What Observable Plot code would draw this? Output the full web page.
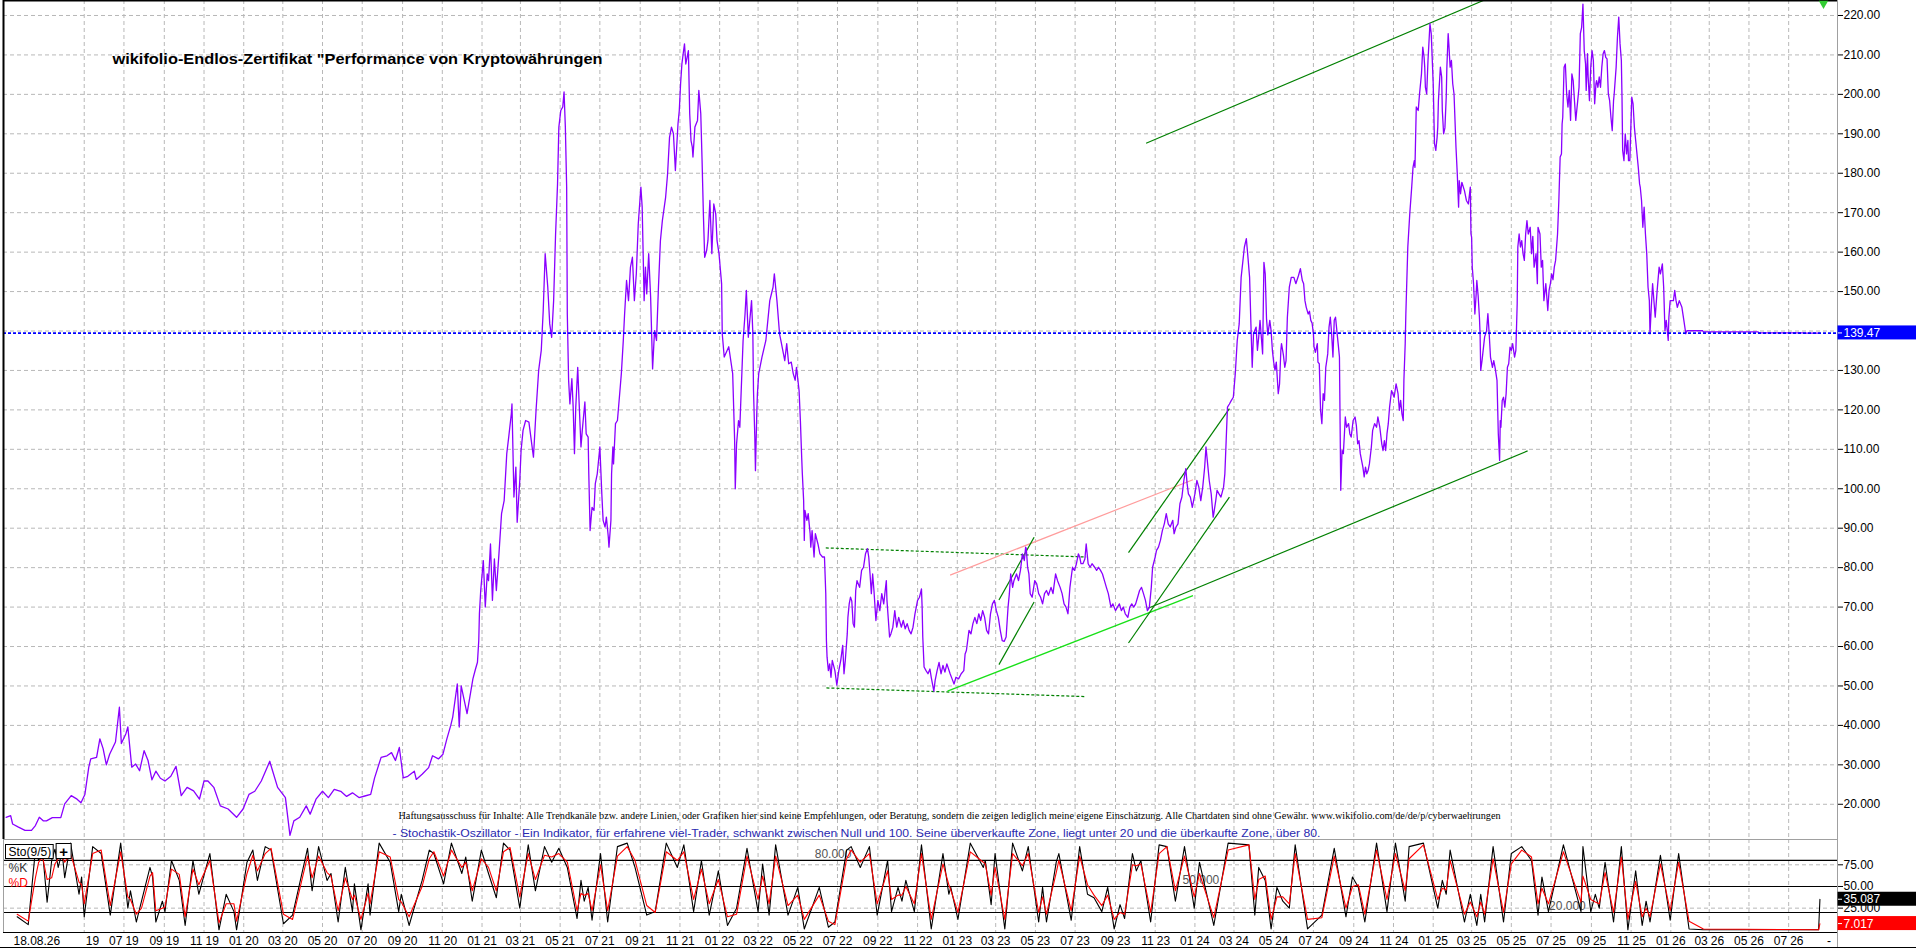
<!DOCTYPE html>
<html>
<head>
<meta charset="utf-8">
<script src="https://cdn.jsdelivr.net/npm/d3@7"></script>
<script src="https://cdn.jsdelivr.net/npm/@observablehq/plot@0.6"></script>
<style>
  html,body{margin:0;padding:0;background:#fff;overflow:hidden}
  #chart{position:relative;width:1916px;height:948px;background:#fff}
  #chart svg{position:absolute;left:0;display:block}
</style>
</head>
<body>
<div id="chart"></div>
<script>
// ================= DATA =================
const titleText = 'wikifolio-Endlos-Zertifikat "Performance von Kryptowährungen';
const disclaimerText = "Haftungsausschuss für Inhalte: Alle Trendkanäle bzw. andere Linien, oder Grafiken hier sind keine Empfehlungen, oder Beratung, sondern die zeigen lediglich meine eigene Einschätzung. Alle Chartdaten sind ohne Gewähr. www.wikifolio.com/de/de/p/cyberwaehrungen";
const stochNote = "- Stochastik-Oszillator - Ein Indikator, für erfahrene viel-Trader, schwankt zwischen Null und 100. Seine überverkaufte Zone, liegt unter 20 und die überkaufte Zone, über 80.";
const stochName = "Sto(9/5)";

// price of the certificate, [MM-DD, value] per year
const price2019 = [["01-01",16.7],["01-08",17.1],["01-11",15.0],["01-20",14.2],["01-30",13.4],["02-09",13.4],["02-15",14.6],["02-21",16.7],["02-27",15.8],["03-04",15.8],["03-13",16.6],["03-26",16.6],["04-01",20.1],["04-11",22.2],["04-20",21.3],["04-26",20.4],["05-02",22.5],["05-08",29.4],["05-11",31.5],["05-20",31.9],["05-25",36.6],["05-30",34.1],["06-04",30.0],["06-09",32.7],["06-18",35.8],["06-24",44.6],["06-27",35.4],["07-04",37.9],["07-07",39.6],["07-13",29.4],["07-19",30.2],["07-25",28.5],["08-01",33.6],["08-07",31.1],["08-13",26.2],["08-19",28.4],["08-26",26.6],["09-02",25.9],["09-11",27.1],["09-19",29.6],["09-27",22.2],["10-06",24.3],["10-16",23.4],["10-25",21.3],["11-01",25.9],["11-07",25.9],["11-16",24.3],["11-26",19.6],["12-08",18.8],["12-21",16.7],["12-31",18.8]];
const price2020 = [["01-09",22.5],["01-18",23.3],["01-28",25.9],["02-10",30.9],["02-13",29.2],["02-22",24.3],["03-05",21.7],["03-12",12.1],["03-18",15.8],["03-27",16.7],["04-06",19.6],["04-12",17.5],["04-21",21.3],["05-01",23.3],["05-10",21.7],["05-19",23.8],["05-29",23.3],["06-07",22.0],["06-16",22.9],["06-26",21.7],["07-05",22.1],["07-14",22.5],["07-20",26.7],["07-30",31.9],["08-08",32.3],["08-15",33.1],["08-21",31.1],["08-27",34.4],["09-02",26.7],["09-09",27.1],["09-19",28.4],["09-22",26.3],["10-01",27.6],["10-11",29.3],["10-17",32.3],["10-26",31.5],["11-02",32.7],["11-08",36.6],["11-14",40.0],["11-17",42.1],["11-24",50.5],["11-27",39.6],["11-30",50.0],["12-09",43.0],["12-18",51.8],["12-22",54.3],["12-25",56.0],["12-27",61.5],["12-28",68.3],["12-30",74.2]];
const price2021 = [["01-03",81.8],["01-06",70.0],["01-09",78.4],["01-11",76.7],["01-14",86.0],["01-17",71.7],["01-20",82.2],["01-23",74.2],["01-27",83.5],["01-31",93.7],["02-04",97.0],["02-08",108.9],["02-11",113.1],["02-15",119.0],["02-16",121.5],["02-19",97.9],["02-22",105.5],["02-24",91.5],["02-28",102.1],["03-02",109.7],["03-05",114.8],["03-09",117.3],["03-14",116.9],["03-17",113.1],["03-21",108.0],["03-25",119.9],["03-29",130.0],["04-02",135.1],["04-05",145.2],["04-08",159.6],["04-12",151.1],["04-15",141.8],["04-18",138.4],["04-21",147.7],["04-24",164.6],["04-27",177.3],["04-29",191.7],["05-02",195.9],["05-05",196.8],["05-07",200.6],["05-09",191.7],["05-11",176.5],["05-12",144.3],["05-14",127.5],["05-16",121.5],["05-19",127.9],["05-21",120.7],["05-23",108.9],["05-25",120.7],["05-28",130.8],["05-30",122.4],["06-02",110.6],["06-04",114.8],["06-08",122.0],["06-10",113.9],["06-13",113.1],["06-14",103.8],["06-16",89.4],["06-19",95.3],["06-22",94.5],["06-24",101.3],["06-27",103.8],["07-01",110.6],["07-04",98.7],["07-06",92.0],["07-09",90.3],["07-11",92.8],["07-14",87.7],["07-15",85.2],["07-18",92.0],["07-19",103.8],["07-21",110.6],["07-22",106.3],["07-25",116.5],["07-28",117.3],["07-31",123.2],["08-03",129.2],["08-06",137.6],["08-08",144.3],["08-11",152.8],["08-14",147.7],["08-17",156.2],["08-20",158.7],["08-23",147.7],["08-26",154.5],["08-29",167.2],["09-02",176.5],["09-04",171.4],["09-07",147.7],["09-09",156.2],["09-11",149.4],["09-14",159.6],["09-17",148.5],["09-20",130.4],["09-23",140.1],["09-26",137.6],["09-29",151.1],["10-02",162.9],["10-05",168.0],["10-10",173.9],["10-13",179.8],["10-16",189.1],["10-19",191.7],["10-22",190.0],["10-25",180.7],["10-29",192.5],["10-31",195.9],["11-02",202.7],["11-04",207.7],["11-06",210.3],["11-08",212.8],["11-10",207.7],["11-12",209.4],["11-14",211.1],["11-16",195.1],["11-18",188.3],["11-20",186.6],["11-21",184.1],["11-24",191.7],["11-28",193.4],["11-30",201.0],["12-03",195.1],["12-05",183.2],["12-07",169.7],["12-09",158.7],["12-12",160.4],["12-14",162.9],["12-17",173.1],["12-20",159.6],["12-23",172.2],["12-26",169.7],["12-28",162.9],["12-31",159.6]];
const price2022 = [["01-04",152.0],["01-05",139.3],["01-08",133.4],["01-15",136.0],["01-21",129.2],["01-24",112.3],["01-25",100.0],["01-27",111.4],["01-30",117.3],["02-01",115.6],["02-06",137.6],["02-09",144.3],["02-11",150.3],["02-14",138.4],["02-19",147.7],["02-21",139.3],["02-22",124.9],["02-24",113.1],["02-25",104.6],["02-27",119.0],["02-28",124.1],["03-02",129.2],["03-07",133.4],["03-13",137.6],["03-19",147.7],["03-24",151.1],["03-26",154.5],["03-30",147.7],["04-03",139.3],["04-05",137.6],["04-11",132.5],["04-14",136.8],["04-17",131.7],["04-21",132.1],["04-24",129.2],["04-27",127.5],["04-29",130.8],["05-03",124.9],["05-05",117.3],["05-07",108.0],["05-08",103.8],["05-10",97.0],["05-11",86.9],["05-12",94.5],["05-15",92.0],["05-17",93.7],["05-20",88.6],["05-21",85.2],["05-23",89.4],["05-26",82.7],["05-28",88.6],["06-01",86.0],["06-04",83.5],["06-08",82.7],["06-11",82.7],["06-13",73.4],["06-14",61.5],["06-15",57.3],["06-17",53.9],["06-19",55.6],["06-21",52.2],["06-23",56.5],["06-27",53.9],["06-30",50.2],["07-03",53.9],["07-06",56.5],["07-09",60.3],["07-11",53.1],["07-13",56.5],["07-16",63.2],["07-17",67.4],["07-19",70.8],["07-21",72.5],["07-23",71.5],["07-25",65.8],["07-27",64.9],["07-29",74.2],["07-31",76.7],["08-04",75.0],["08-07",79.3],["08-10",80.1],["08-13",83.5],["08-16",84.8],["08-18",82.7],["08-20",78.4],["08-22",73.4],["08-24",78.4],["08-26",74.2],["08-29",66.6],["09-01",71.7],["09-04",69.1],["09-07",73.4],["09-10",70.8],["09-14",76.7],["09-15",71.7],["09-19",62.4],["09-21",63.2],["09-24",64.9],["09-27",69.1],["09-30",64.9],["10-03",67.4],["10-07",64.9],["10-10",66.6],["10-13",64.5],["10-16",65.8],["10-19",64.1],["10-22",63.2],["10-25",64.9],["10-28",68.3],["11-01",71.7],["11-04",72.5],["11-07",74.6],["11-08",70.0],["11-09",62.4],["11-11",54.8],["11-14",53.9],["11-17",53.1],["11-20",54.3],["11-22",52.2],["11-26",48.7],["11-28",51.4],["12-01",53.9],["12-04",56.0],["12-07",53.1],["12-10",55.2],["12-13",53.5],["12-16",55.6],["12-21",53.1],["12-24",51.8],["12-27",50.5],["12-30",52.2]];
const price2023 = [["01-03",51.8],["01-07",53.1],["01-11",53.9],["01-13",58.1],["01-15",59.0],["01-19",64.1],["01-22",63.2],["01-25",65.8],["01-28",67.4],["01-31",65.8],["02-03",68.3],["02-06",66.6],["02-09",69.1],["02-12",67.4],["02-15",64.1],["02-18",63.2],["02-21",68.3],["02-24",70.8],["02-27",71.7],["03-02",69.1],["03-05",67.4],["03-08",64.1],["03-11",61.5],["03-14",61.3],["03-17",62.4],["03-20",70.0],["03-22",73.4],["03-24",78.4],["03-27",75.0],["03-29",76.7],["04-02",78.4],["04-05",76.7],["04-08",79.3],["04-11",83.5],["04-14",81.8],["04-16",85.2],["04-17",84.8],["04-19",80.1],["04-21",78.4],["04-23",73.4],["04-26",72.5],["04-30",76.7],["05-03",75.9],["05-06",73.4],["05-09",72.5],["05-12",70.8],["05-15",73.4],["05-18",74.2],["05-21",73.0],["05-25",75.0],["05-28",73.4],["06-01",78.4],["06-04",76.7],["06-08",75.0],["06-11",73.4],["06-14",70.8],["06-17",70.0],["06-20",68.3],["06-23",75.0],["06-27",80.1],["06-30",79.3],["07-03",81.0],["07-06",83.5],["07-08",82.7],["07-10",81.0],["07-13",81.0],["07-16",82.2],["07-18",86.0],["07-21",81.0],["07-24",80.1],["07-27",81.0],["07-31",80.1],["08-03",79.3],["08-06",80.1],["08-09",79.3],["08-12",78.4],["08-15",76.7],["08-18",75.0],["08-21",73.4],["08-25",70.0],["08-28",70.8],["09-01",69.1],["09-04",70.0],["09-07",70.8],["09-10",69.1],["09-13",70.0],["09-16",68.3],["09-20",67.4],["09-23",70.0],["09-26",70.8],["09-29",70.0],["10-02",70.8],["10-05",72.5],["10-08",74.2],["10-11",75.0],["10-14",73.4],["10-17",71.7],["10-20",69.1],["10-23",70.0],["10-26",75.0],["10-28",80.1],["11-01",82.7],["11-03",84.4],["11-06",85.2],["11-09",86.9],["11-12",89.4],["11-15",91.1],["11-18",93.7],["11-21",91.1],["11-24",90.3],["11-28",92.0],["11-30",88.6],["12-03",90.3],["12-06",91.1],["12-09",96.2],["12-12",97.9],["12-15",102.1],["12-18",105.1],["12-20",101.3],["12-22",98.7],["12-25",97.9],["12-28",95.3]];
const price2024 = [["01-01",98.7],["01-04",102.1],["01-07",100.4],["01-10",97.0],["01-13",100.4],["01-16",105.5],["01-18",110.6],["01-21",105.5],["01-23",102.1],["01-26",98.7],["01-29",92.8],["01-30",93.7],["02-02",97.0],["02-04",99.6],["02-07",98.7],["02-10",97.9],["02-14",100.4],["02-16",103.8],["02-18",112.2],["02-20",120.7],["02-23",121.5],["02-26",122.4],["02-29",123.2],["03-03",129.2],["03-06",137.6],["03-09",141.8],["03-12",153.6],["03-17",161.3],["03-20",163.4],["03-22",159.6],["03-25",153.6],["03-27",141.8],["03-29",130.8],["03-31",139.3],["04-04",141.0],["04-06",135.1],["04-08",138.5],["04-10",142.7],["04-12",138.5],["04-14",134.2],["04-16",157.4],["04-18",154.5],["04-20",143.0],["04-22",139.0],["04-25",142.7],["04-27",140.1],["04-29",135.1],["05-01",132.1],["05-03",130.0],["05-05",132.1],["05-08",124.1],["05-10",126.6],["05-12",135.1],["05-13",136.8],["05-16",133.8],["05-18",130.8],["05-20",132.5],["05-22",143.5],["05-25",151.1],["05-28",153.6],["06-01",153.6],["06-04",152.0],["06-08",154.0],["06-11",155.8],["06-14",152.8],["06-16",152.0],["06-18",147.7],["06-20",146.0],["06-23",144.3],["06-25",145.0],["06-27",142.7],["06-29",142.0],["07-01",139.3],["07-02",135.9],["07-04",134.6],["07-07",136.8],["07-08",132.1],["07-10",131.7],["07-12",119.9],["07-14",116.5],["07-16",124.1],["07-18",122.4],["07-20",130.8],["07-23",134.2],["07-25",141.0],["07-27",143.5],["07-29",139.3],["07-31",133.4],["08-02",142.7],["08-04",143.5],["08-06",140.1],["08-08",136.8],["08-10",133.4],["08-11",116.5],["08-12",99.6],["08-14",109.7],["08-16",108.9],["08-19",118.2],["08-21",115.6],["08-24",116.5],["08-26",113.9],["08-28",113.1],["08-31",117.3],["09-03",118.2],["09-05",116.0],["09-07",111.4],["09-09",112.2],["09-11",108.9],["09-13",107.2],["09-15",105.5],["09-17",103.0],["09-19",105.5],["09-21",103.8],["09-23",104.6],["09-25",106.3],["09-28",110.6],["09-30",114.8],["10-03",116.5],["10-06",115.6],["10-08",118.2],["10-11",115.6],["10-14",111.4],["10-16",109.7],["10-18",112.2],["10-20",109.7],["10-22",113.9],["10-24",116.5],["10-26",120.7],["10-29",124.9],["11-02",123.2],["11-05",126.6],["11-08",124.1],["11-10",119.9],["11-12",122.4],["11-14",119.0],["11-16",117.3],["11-17",127.5],["11-19",136.8],["11-20",144.4],["11-23",161.3],["11-26",169.7],["11-29",176.5],["12-01",181.5],["12-03",183.2],["12-04",181.5],["12-06",196.8],["12-09",195.9],["12-11",200.1],["12-14",205.2],["12-16",212.0],["12-18",209.4],["12-19",206.9],["12-20",201.8],["12-22",200.1],["12-24",208.6],["12-27",217.9],["12-29",215.4]];
const price2025 = [["01-01",202.7],["01-03",187.5],["01-05",185.8],["01-07",189.1],["01-08",191.7],["01-09",198.4],["01-12",206.9],["01-14",204.4],["01-15",195.9],["01-17",190.0],["01-19",191.5],["01-21",199.3],["01-22",206.9],["01-24",215.4],["01-25",212.8],["01-27",206.9],["01-29",208.6],["01-31",202.7],["02-02",200.1],["02-05",186.6],["02-07",179.8],["02-09",171.4],["02-10",178.1],["02-12",174.8],["02-14",177.7],["02-18",175.6],["02-21",173.1],["02-24",172.2],["02-27",176.5],["02-28",164.6],["03-01",163.8],["03-02",156.2],["03-04",152.0],["03-06",144.3],["03-08",149.4],["03-09",152.8],["03-11",149.0],["03-13",143.5],["03-14",139.3],["03-15",130.0],["03-17",132.5],["03-21",138.5],["03-24",140.1],["03-26",144.4],["03-28",139.3],["03-30",133.4],["04-02",130.8],["04-04",132.5],["04-06",130.8],["04-09",127.5],["04-11",113.9],["04-13",107.2],["04-14",117.3],["04-15",115.6],["04-17",122.4],["04-19",123.2],["04-21",120.7],["04-23",124.1],["04-25",130.8],["04-27",131.7],["04-29",135.9],["05-01",135.1],["05-03",136.8],["05-06",133.4],["05-08",135.1],["05-10",146.9],["05-11",161.3],["05-13",164.6],["05-15",161.3],["05-17",162.9],["05-19",159.6],["05-21",157.9],["05-23",164.6],["05-25",168.0],["05-27",164.6],["05-30",166.3],["06-01",159.6],["06-03",164.0],["06-05",156.2],["06-08",159.6],["06-10",152.0],["06-11",166.3],["06-14",164.6],["06-16",156.2],["06-18",157.9],["06-20",147.7],["06-23",152.0],["06-26",145.2],["06-28",150.3],["06-30",152.0],["07-02",154.5],["07-04",153.0],["07-06",156.2],["07-08",157.9],["07-11",164.6],["07-13",173.1],["07-15",184.1],["07-17",184.9],["07-18",192.5],["07-19",194.2],["07-21",206.9],["07-23",207.7],["07-25",200.1],["07-27",196.8],["07-29",201.0],["07-31",193.4],["08-02",205.2],["08-04",203.5],["08-06",198.4],["08-08",193.4],["08-09",195.1],["08-11",198.4],["08-13",201.8],["08-15",215.4],["08-17",217.0],["08-19",222.9],["08-21",211.1],["08-23",207.7],["08-24",201.0],["08-26",210.3],["08-27",204.4],["08-29",198.4],["08-31",206.9],["09-02",211.1],["09-04",208.6],["09-06",197.6],["09-08",202.7],["09-09",203.5],["09-11",201.8],["09-13",204.4],["09-15",201.8],["09-17",206.9],["09-19",210.3],["09-21",211.1],["09-23",209.4],["09-25",209.0],["09-27",200.1],["09-29",198.4],["10-01",194.2],["10-03",190.8],["10-05",198.4],["10-06",200.1],["10-09",206.9],["10-11",214.5],["10-13",219.6],["10-15",212.8],["10-17",208.6],["10-18",199.3],["10-19",185.8],["10-21",183.2],["10-23",190.0],["10-25",184.9],["10-27",188.3],["10-28",183.2],["10-30",183.2],["11-02",199.3],["11-04",197.6],["11-06",191.7],["11-08",188.3],["11-10",184.9],["11-12",181.5],["11-14",177.3],["11-15",176.5],["11-17",173.1],["11-19",166.3],["11-21",171.4],["11-23",164.6],["11-25",159.6],["11-27",151.1],["11-29",147.7],["11-30",139.3],["12-01",142.7],["12-02",146.1],["12-04",152.0],["12-08",143.5],["12-11",150.3],["12-14",156.2],["12-16",154.5],["12-19",157.0],["12-21",151.1],["12-23",140.1],["12-25",142.7],["12-27",139.3],["12-28",137.6],["12-29",143.5],["12-31",147.7]];
const price2026 = [["01-05",147.7],["01-07",150.3],["01-09",147.7],["01-11",146.0],["01-14",147.7],["01-18",146.0],["01-21",142.7],["01-24",139.3],["01-26",140.1],["01-28",140.06],["02-19",140.06],["02-20",139.8],["05-15",139.8],["05-16",139.55],["07-23",139.55],["07-24",139.47],["08-18",139.47]];
const lastDate = "2026-08-18";

// stochastic oscillator turning points: [day since 2019-01-01, %K, %D]
const stoch2019_20 = [[17,15,18],[34,6,10],[45,92,60],[50,80,78],[56,90,84],[63,32,58],[70,80,60],[75,93,76],[80,72,82],[86,90,84],[90,60,78],[99,100,88],[112,41,55],[116,61,52],[120,15,30],[133,96,88],[146,88,92],[160,17,28],[176,100,90],[187,25,38],[191,45,35],[200,9,18],[208,33,25],[221,72,62],[225,61,66],[230,9,22],[240,33,25],[244,21,26],[254,80,70],[266,57,64],[275,5,15],[287,80,70],[296,41,52],[313,88,80],[327,0,8],[338,41,30],[350,21,30],[354,0,10],[370,78,65],[379,92,86],[386,57,68],[398,96,88],[407,92,94],[426,7,18],[440,17,12],[463,94,85],[470,45,60],[480,96,85],[493,57,66],[499,65,62],[510,9,22],[521,72,60],[532,21,35],[535,53,40],[545,0,12],[556,53,42],[559,17,30],[573,100,90],[590,78,84],[603,21,35],[607,41,32],[619,5,15],[639,57,50],[650,92,82],[657,88,90],[672,53,62],[684,100,92],[700,65,72],[706,84,78],[716,33,45],[730,92,82]];
const stoch2021_22 = [[741,65,72],[753,37,45],[764,100,90],[774,92,95],[789,25,38],[802,98,88],[813,45,58],[827,96,86],[838,78,84],[849,94,88],[862,72,78],[877,13,22],[883,57,42],[888,33,40],[894,49,42],[900,11,22],[913,88,75],[924,9,22],[939,96,85],[954,100,96],[966,72,80],[984,17,28],[997,21,20],[1014,100,90],[1031,72,80],[1041,98,90],[1056,21,35],[1068,80,70],[1080,17,30],[1094,68,58],[1108,5,15],[1122,25,18],[1138,94,85],[1155,21,35],[1162,76,62],[1172,17,30],[1182,98,85],[1201,17,28],[1216,49,40],[1226,1,12],[1249,49,40],[1263,3,10],[1273,9,6],[1291,92,82],[1298,96,92],[1312,72,78],[1326,96,88],[1338,17,30],[1354,80,68],[1360,21,35],[1370,49,40],[1376,33,40],[1382,57,50],[1395,21,30],[1406,98,88],[1421,1,12],[1439,88,76],[1448,41,52],[1451,49,46]];
const stoch2023_24 = [[1462,12,20],[1481,100,90],[1501,72,78],[1504,80,76],[1513,29,40],[1519,88,72],[1534,1,12],[1546,100,88],[1561,68,74],[1570,96,88],[1586,9,20],[1592,49,38],[1598,9,18],[1613,78,66],[1617,88,80],[1636,11,22],[1649,96,85],[1661,41,52],[1671,37,40],[1683,21,28],[1692,49,40],[1702,1,12],[1711,29,20],[1718,13,18],[1730,88,75],[1736,68,74],[1743,80,76],[1758,9,20],[1771,98,88],[1783,96,96],[1796,33,45],[1810,96,85],[1825,25,38],[1833,78,65],[1855,5,14],[1877,100,92],[1909,98,98],[1918,17,35]];
const stoch2025_26 = [[1924,72,58],[1934,57,62],[1943,1,12],[1952,49,38],[1961,33,38],[1971,25,30],[1980,98,88],[1999,1,12],[2021,17,14],[2040,94,85],[2058,15,25],[2068,61,50],[2077,49,52],[2087,9,18],[2105,100,92],[2121,21,35],[2134,100,88],[2149,33,45],[2155,96,82],[2177,100,98],[2199,25,35],[2206,57,48],[2212,41,46],[2218,92,80],[2240,9,18],[2249,41,32],[2259,5,15],[2265,41,32],[2271,9,18],[2284,96,82],[2300,9,20],[2312,88,76],[2328,96,92],[2343,80,84],[2353,17,30],[2359,61,48],[2369,21,30],[2392,98,90],[2419,21,32],[2422,96,62],[2434,21,35],[2441,41,32],[2447,25,30],[2456,78,66],[2469,9,20],[2481,96,84],[2491,0,12],[2503,68,56],[2513,5,15],[2519,33,25],[2525,9,15],[2541,86,76],[2556,11,22],[2569,88,78],[2585,1,10],[2607,0,1],[2784,0,0],[2786,35.087,7.017]];

// drawn trend lines: [date1, value1, date2, value2]
const trendSolid = [["2023-10-18",187.6,"2025-03-19",223.8],["2023-10-21",69.7,"2025-05-26",109.6],["2023-03-06",71.8,"2023-04-29",87.7],["2023-03-06",55.4,"2023-04-29",71.3],["2023-09-21",83.8,"2024-02-23",120.3],["2023-09-21",60.9,"2024-02-23",97.9]];
const trendSupport = [["2022-12-17",48.7,"2023-12-29",72.9]];
const trendResistance = [["2022-12-21",78.1,"2023-12-29",102.3]];
const trendRange = [["2022-06-13",85.0,"2023-07-18",82.7],["2022-06-14",49.5,"2023-07-18",47.3]];

// axes
const xTickMonths = ["2019-05","2019-07","2019-09","2019-11","2020-01","2020-03","2020-05","2020-07","2020-09","2020-11","2021-01","2021-03","2021-05","2021-07","2021-09","2021-11","2022-01","2022-03","2022-05","2022-07","2022-09","2022-11","2023-01","2023-03","2023-05","2023-07","2023-09","2023-11","2024-01","2024-03","2024-05","2024-07","2024-09","2024-11","2025-01","2025-03","2025-05","2025-07","2025-09","2025-11","2026-01","2026-03","2026-05","2026-07"];
const xTickOverflow = ["2026-09"];
const priceTicks = [20,30,40,50,60,70,80,90,100,110,120,130,140,150,160,170,180,190,200,210,220];
const stochTicks = [25,50,75];
const stochLevels = [20,50,80];
const stochLevelLabels = [["2022-05-27",80,"80.000"],["2023-12-13",50,"50.000"],["2025-06-28",20,"20.000"]];
const xDomain = ["2018-12-28","2026-09-14"];
const priceDomain = [11.07, 223.8];
const stochDomain = [-3.1, 104.2];

// ================= BUILD =================
const toDate = s => new Date(s + "T00:00:00Z");
const day0 = Date.UTC(2019, 0, 1);
const priceYears = [[2019,price2019],[2020,price2020],[2021,price2021],[2022,price2022],[2023,price2023],[2024,price2024],[2025,price2025],[2026,price2026]];
const price = priceYears.flatMap(([y, rows]) => rows.map(([md, v]) => ({date: toDate(`${y}-${md}`), value: v})));
const stoch = [...stoch2019_20, ...stoch2021_22, ...stoch2023_24, ...stoch2025_26]
  .map(([d, k, dv]) => ({date: new Date(day0 + d * 86400000), k, d: dv}));
const toLink = rows => rows.map(([a, v1, b, v2]) => ({x1: toDate(a), y1: v1, x2: toDate(b), y2: v2}));
const lastPrice = price[price.length - 1].value;
const lastK = stoch[stoch.length - 1].k;
const lastD = stoch[stoch.length - 1].d;
const xDom = xDomain.map(toDate);
const tickDates = xTickMonths.map(m => toDate(m + "-01"));
const fmtM = d3.utcFormat("%m"), fmtY = d3.utcFormat("%y"), fmtStamp = d3.utcFormat("%d.%m.%y");

const SANS = "'Liberation Sans', Arial, sans-serif";
const SERIF = "'Liberation Serif', 'Times New Roman', serif";
const W = 1916;
const grid = {stroke: "#b8b8b8", strokeOpacity: 1, strokeWidth: 1, strokeDasharray: "4,3"};
const baseStyle = {background: "#fff", fontFamily: SANS, fontSize: "12px", color: "#000", overflow: "visible"};

const main = Plot.plot({
  width: W, height: 839,
  marginLeft: 3, marginRight: 79, marginTop: 0, marginBottom: 0,
  style: baseStyle,
  x: {type: "utc", domain: xDom, axis: null},
  y: {domain: priceDomain, axis: "right", ticks: priceTicks,
      tickFormat: v => v >= 50 ? v.toFixed(2) : v.toFixed(3),
      tickSize: 5, tickPadding: 1, label: null},
  marks: [
    Plot.ruleX(tickDates, grid),
    Plot.ruleY(priceTicks, grid),
    Plot.text([titleText], {text: d => d, frameAnchor: "top-left", dx: 109, dy: 63.5, lineAnchor: "bottom", textAnchor: "start",
      fontFamily: SANS, fontWeight: "bold", fontSize: 15.5, fill: "#000"}),
    Plot.text([disclaimerText], {text: d => d, frameAnchor: "top-left", dx: 395, dy: 818.3, lineAnchor: "bottom", textAnchor: "start",
      fontFamily: SERIF, fontSize: 10.5, fill: "#000"}),
    Plot.text([stochNote], {text: d => d, frameAnchor: "top-left", dx: 389, dy: 836.5, lineAnchor: "bottom", textAnchor: "start",
      fontFamily: SANS, fontSize: 11.5, fill: "#2a2ab0"}),
    Plot.link(toLink(trendRange), {x1: "x1", y1: "y1", x2: "x2", y2: "y2", stroke: "#008000", strokeWidth: 1.2, strokeDasharray: "3,2"}),
    Plot.link(toLink(trendResistance), {x1: "x1", y1: "y1", x2: "x2", y2: "y2", stroke: "#ff9c9c", strokeWidth: 1.2}),
    Plot.link(toLink(trendSupport), {x1: "x1", y1: "y1", x2: "x2", y2: "y2", stroke: "#18e018", strokeWidth: 1.3}),
    Plot.link(toLink(trendSolid), {x1: "x1", y1: "y1", x2: "x2", y2: "y2", stroke: "#008000", strokeWidth: 1.2}),
    Plot.line(price, {x: "date", y: "value", stroke: "#8a00ff", strokeWidth: 1.3}),
    Plot.ruleY([lastPrice], {stroke: "#0000ff", strokeWidth: 1.6, strokeDasharray: "3,2"}),
    Plot.frame({stroke: "#a0a0a0"}),
    Plot.ruleX([xDom[0]], {stroke: "#000", strokeWidth: 2}),
    Plot.ruleY([priceDomain[1]], {stroke: "#000", strokeWidth: 2}),
    Plot.text([lastPrice], {y: d => d, text: d => d.toFixed(2), frameAnchor: "right", dx: 6, textAnchor: "start",
      fill: "#fff", fontSize: 12}),
    Plot.dot([lastPrice], {frameAnchor: "top-right", dx: -14, dy: 3, symbol: "triangle", r: 3.5, fill: "#33cc33", rotate: 180})
  ]
});

const sto = Plot.plot({
  width: W, height: 108,
  marginLeft: 3, marginRight: 79, marginTop: 0, marginBottom: 15,
  style: baseStyle,
  x: {type: "utc", domain: xDom, axis: null},
  y: {domain: stochDomain, axis: "right", ticks: stochTicks,
      tickFormat: v => v < 50 ? v.toFixed(3) : v.toFixed(2),
      tickSize: 5, tickPadding: 1, label: null},
  marks: [
    Plot.ruleX(tickDates, grid),
    Plot.ruleY(stochTicks, grid),
    Plot.text(stochLevelLabels, {x: d => toDate(d[0]), y: d => d[1], text: d => d[2], dy: -2, lineAnchor: "bottom",
      textAnchor: "start", fill: "#555", fontSize: 12}),
    Plot.ruleY(stochLevels, {stroke: "#000", strokeWidth: 1.2}),
    Plot.line(stoch, {x: "date", y: "k", stroke: "#000", strokeWidth: 1.1}),
    Plot.line(stoch, {x: "date", y: "d", stroke: "#ff0000", strokeWidth: 1.1}),
    Plot.text([stochName], {text: d => d, frameAnchor: "top-left", dx: 5, dy: 16, lineAnchor: "bottom", textAnchor: "start",
      fill: "#000", fontSize: 12}),
    Plot.text(["+"], {text: d => d, frameAnchor: "top-left", dx: 60, dy: 17, lineAnchor: "bottom", textAnchor: "middle",
      fill: "#000", fontSize: 15, fontWeight: "bold"}),
    Plot.text(["%K"], {text: d => d, frameAnchor: "top-left", dx: 5, dy: 32.5, lineAnchor: "bottom", textAnchor: "start",
      fill: "#333", fontSize: 12}),
    Plot.text(["%D"], {text: d => d, frameAnchor: "top-left", dx: 5, dy: 47.5, lineAnchor: "bottom", textAnchor: "start",
      fill: "#ff0000", fontSize: 12}),
    Plot.frame({stroke: "#a0a0a0"}),
    Plot.ruleY([stochDomain[0]], {stroke: "#000", strokeWidth: 1.2}),
    Plot.text([lastK], {y: d => d, text: d => d.toFixed(3), frameAnchor: "right", dx: 6, textAnchor: "start",
      fill: "#fff", fontSize: 12}),
    Plot.text([lastD], {y: d => d, text: d => d.toFixed(3), frameAnchor: "right", dx: 6, textAnchor: "start",
      fill: "#fff", fontSize: 12}),
    // x axis labels: month left of the gridline, year right of it
    Plot.text(tickDates, {x: d => d, text: (d, i) => i === 0 ? "" : fmtM(d), frameAnchor: "bottom", dx: -1.5, dy: 12.5,
      lineAnchor: "bottom", textAnchor: "end", fill: "#000", fontSize: 12}),
    Plot.text(tickDates, {x: d => d, text: d => fmtY(d), frameAnchor: "bottom", dx: 1.5, dy: 12.5,
      lineAnchor: "bottom", textAnchor: "start", fill: "#000", fontSize: 12}),
    Plot.text(xTickOverflow.map(m => toDate(m + "-01")), {x: d => d, text: () => "-", frameAnchor: "bottom", dy: 12.5,
      lineAnchor: "bottom", textAnchor: "middle", fill: "#000", fontSize: 12}),
    Plot.text([toDate(lastDate)], {text: d => fmtStamp(d), frameAnchor: "bottom-left", dx: 10, dy: 12.5,
      lineAnchor: "bottom", textAnchor: "start", fill: "#000", fontSize: 12})
  ]
});

const chart = document.getElementById("chart");
main.style.top = "0px";
sto.style.top = "839px";
sto.style.borderBottom = "1px solid #000";
chart.append(main, sto);

// ---- decorations measured from the rendered texts ----
const NS = "http://www.w3.org/2000/svg";
const findText = (svg, s) => [...svg.querySelectorAll("text")].find(t => t.textContent === s);
function topGroup(svg, el) { while (el && el.parentNode !== svg) el = el.parentNode; return el; }
function el(name, attrs) {
  const e = document.createElementNS(NS, name);
  for (const k in attrs) e.setAttribute(k, attrs[k]);
  return e;
}
function fit(svg, s, len) {
  const t = findText(svg, s);
  if (t) { t.setAttribute("textLength", len); t.setAttribute("lengthAdjust", "spacingAndGlyphs"); }
}
function valueBox(svg, s, fill) {
  const t = findText(svg, s);
  if (!t) return;
  const sr = svg.getBoundingClientRect();
  const b = t.getBoundingClientRect();
  const cy = b.top - sr.top + b.height / 2 - 0.5;
  const g = topGroup(svg, t);
  svg.insertBefore(el("rect", {x: W - 79 + 0.5, width: 79, y: cy - 7, height: 14, fill}), g);
  svg.insertBefore(el("line", {x1: W - 79 + 1, x2: W - 79 + 5, y1: cy + 0.5, y2: cy + 0.5, stroke: "#fff", "stroke-width": 1}), g);
}
function outline(svg, s, padL, padR, padT, padB) {
  const t = findText(svg, s);
  if (!t) return;
  const sr = svg.getBoundingClientRect();
  const b = t.getBoundingClientRect();
  svg.insertBefore(el("rect", {x: b.left - sr.left - padL, width: b.width + padL + padR,
    y: b.top - sr.top - padT, height: b.height + padT + padB, fill: "#fff", stroke: "#000", "stroke-width": 1}), topGroup(svg, t));
}
fit(main, titleText, 490);
fit(main, disclaimerText, 1102);
fit(main, stochNote, 928);
valueBox(main, lastPrice.toFixed(2), "#0000ff");
valueBox(sto, lastK.toFixed(3), "#000000");
valueBox(sto, lastD.toFixed(3), "#ff0000");
outline(sto, stochName, 3, 2, 0, 0);
outline(sto, "+", 3, 3, -1, -1);
// right border continues through the date row, as in the reference
sto.appendChild(el("line", {x1: W - 79 + 0.5, x2: W - 79 + 0.5, y1: 93, y2: 108, stroke: "#a0a0a0", "stroke-width": 1}));
</script>
</body>
</html>
